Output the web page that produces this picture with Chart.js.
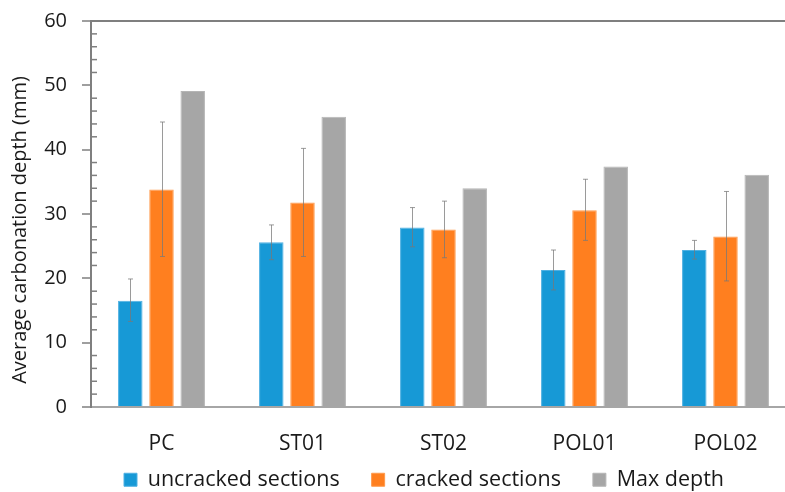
<!DOCTYPE html>
<html>
<head>
<meta charset="utf-8">
<script src="https://cdn.jsdelivr.net/npm/chart.js@4.4.1/dist/chart.umd.min.js"></script>
<style>
  html, body { margin: 0; padding: 0; background: #fff; overflow: hidden; width: 785px; height: 492px; }
  #wrap { width: 800px; height: 492px; }
</style>
</head>
<body>
<div id="wrap"><canvas id="c" width="800" height="492"></canvas></div>
<script>
const categories = ['PC', 'ST01', 'ST02', 'POL01', 'POL02'];
const uncracked = [16.5, 25.6, 27.9, 21.3, 24.4];
const uncrackedErrLow = [13.3, 22.9, 24.9, 18.2, 23.0];
const uncrackedErrHigh = [19.9, 28.3, 31.0, 24.4, 25.9];
const cracked = [33.8, 31.8, 27.6, 30.6, 26.5];
const crackedErrLow = [23.4, 23.4, 23.2, 25.9, 19.6];
const crackedErrHigh = [44.3, 40.2, 32.0, 35.4, 33.5];
const maxDepth = [49.1, 45.1, 34.0, 37.4, 36.1];
const yTicks = [0, 10, 20, 30, 40, 50, 60];

const FONT = "'Open Sans', 'Noto Sans', 'DejaVu Sans', sans-serif";
const AXIS_GRAY = '#7f7f7f';
const LEGEND_H = 30;

const errorBars = {
  id: 'errorBars',
  afterDatasetsDraw(chart) {
    const ctx = chart.ctx;
    const y = chart.scales.y;
    const sets = [[uncrackedErrLow, uncrackedErrHigh], [crackedErrLow, crackedErrHigh]];
    ctx.save();
    ctx.strokeStyle = 'rgba(120,120,120,0.75)';
    ctx.lineWidth = 1;
    sets.forEach((pair, di) => {
      const meta = chart.getDatasetMeta(di);
      meta.data.forEach((bar, j) => {
        const x = Math.round(bar.x) + 0.5;
        const yl = y.getPixelForValue(pair[0][j]);
        const yh = y.getPixelForValue(pair[1][j]);
        ctx.beginPath();
        ctx.moveTo(x, yl); ctx.lineTo(x, yh);
        ctx.moveTo(x - 2.5, yl); ctx.lineTo(x + 2.5, yl);
        ctx.moveTo(x - 2.5, yh); ctx.lineTo(x + 2.5, yh);
        ctx.stroke();
      });
    });
    ctx.restore();
  }
};

const minorTicks = {
  id: 'minorTicks',
  afterDraw(chart) {
    const ctx = chart.ctx;
    const y = chart.scales.y;
    const left = chart.chartArea.left;
    ctx.save();
    ctx.strokeStyle = AXIS_GRAY;
    ctx.lineWidth = 1.5;
    for (let v = 2; v < 60; v += 2) {
      if (v % 10 === 0) continue;
      const py = y.getPixelForValue(v);
      ctx.beginPath();
      ctx.moveTo(left, py); ctx.lineTo(left + 6, py);
      ctx.stroke();
    }
    ctx.restore();
  }
};

const layoutTweaks = {
  id: 'layoutTweaks',
  beforeLayout(chart) {
    const lg = chart.legend;
    if (lg && !lg._fitWrapped) {
      const orig = lg.fit.bind(lg);
      lg.fit = function () { orig(); this.height = LEGEND_H; };
      lg._fitWrapped = true;
    }
  },
  afterLayout(chart) {
    const lg = chart.legend;
    const dx = 424 - (lg.left + lg.right) / 2;
    lg.left += dx; lg.right += dx;
    const lp = lg.options.labels.padding;
    lg.top = 480 - 11 - lp;
    lg.bottom = lg.top + lp + 60;
    const s = chart.scales.y;
    if (s && !s._titleWrapped) {
      const origTitle = s.drawTitle.bind(s);
      s.drawTitle = function () {
        this.ctx.save();
        this.ctx.translate(0, 16);
        origTitle();
        this.ctx.restore();
      };
      s._titleWrapped = true;
    }
  }
};

new Chart(document.getElementById('c'), {
  type: 'bar',
  data: {
    labels: categories,
    datasets: [
      { label: 'uncracked sections', data: uncracked, backgroundColor: '#1799d6', borderColor: '#4fb0e2', borderWidth: 1 },
      { label: 'cracked sections', data: cracked, backgroundColor: '#ff7f1f', borderColor: '#ff9a4c', borderWidth: 1 },
      { label: 'Max depth', data: maxDepth, backgroundColor: '#a6a6a6', borderColor: '#b5b5b5', borderWidth: 1 }
    ]
  },
  options: {
    responsive: false,
    devicePixelRatio: 1,
    animation: false,
    layout: { padding: { left: 0, right: 4, top: 21, bottom: 0 } },
    datasets: { bar: { categoryPercentage: 0.664, barPercentage: 0.785 } },
    plugins: {
      tooltip: { enabled: false },
      legend: {
        position: 'bottom',
        labels: {
          boxWidth: 13, boxHeight: 13, padding: 32,
          color: '#1a1a1a',
          font: { family: FONT, size: 21.5 }
        }
      }
    },
    scales: {
      x: {
        grid: { display: false, drawTicks: false },
        border: { display: true, color: '#a6a6a6', width: 2 },
        ticks: { color: '#1a1a1a', font: { family: FONT, size: 21 }, padding: 24 },
        afterFit(s) { s.height = 492 - 407 - LEGEND_H; }
      },
      y: {
        min: 0, max: 60,
        ticks: {
          stepSize: 2, autoSkip: false, padding: 15,
          color: '#1a1a1a', font: { family: FONT, size: 20 },
          callback: (v) => (yTicks.includes(v) ? String(v) : '')
        },
        grid: {
          drawOnChartArea: true,
          color: (c) => (c.tick && c.tick.value === 60 ? AXIS_GRAY : 'rgba(0,0,0,0)'),
          tickColor: (c) => (c.tick && yTicks.includes(c.tick.value) ? AXIS_GRAY : 'rgba(0,0,0,0)'),
          tickLength: 9,
          lineWidth: 2,
          tickWidth: 1.5
        },
        border: { display: true, color: AXIS_GRAY, width: 2 },
        title: {
          display: true,
          text: 'Average carbonation depth (mm)',
          color: '#1a1a1a',
          font: { family: FONT, size: 20 },
          padding: { top: 8, bottom: 0 }
        },
        afterFit(s) { s.width = 91; s.paddingTop = 10; s.paddingBottom = 10; }
      }
    }
  },
  plugins: [errorBars, minorTicks, layoutTweaks]
});
</script>
</body>
</html>
